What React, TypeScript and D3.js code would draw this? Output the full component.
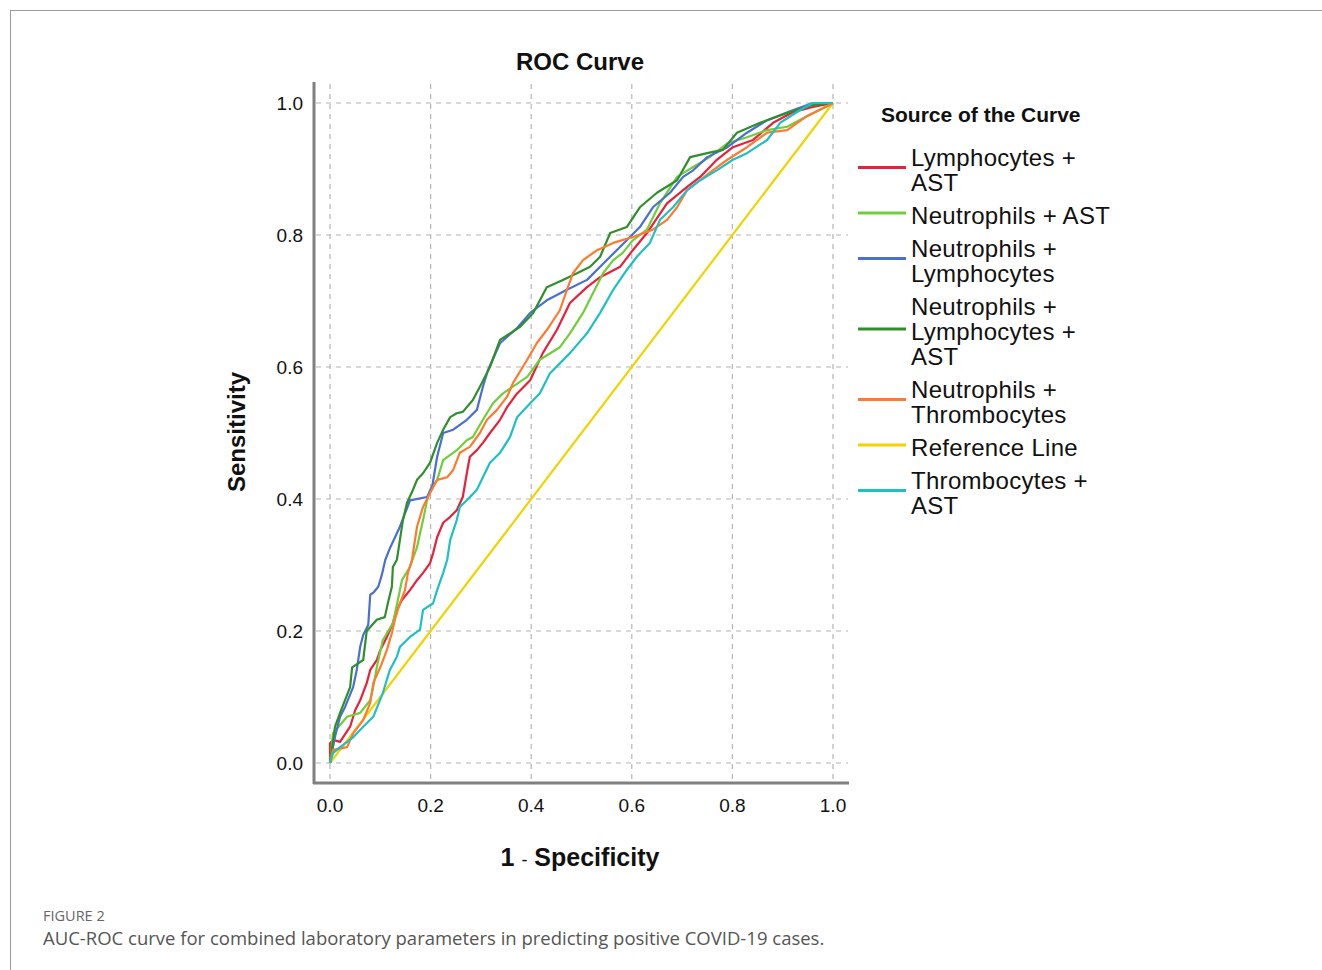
import React from "react";
import * as d3 from "d3";

type Pt = [number, number];

// ROC points: [1 - specificity, sensitivity]
const lymphAst: Pt[] = [
  [0, 0], [0, 0.03], [0.006, 0.035], [0.02, 0.032], [0.04, 0.055], [0.05, 0.08], [0.06, 0.095],
  [0.073, 0.121], [0.08, 0.141], [0.093, 0.156], [0.1, 0.171], [0.113, 0.191], [0.125, 0.212],
  [0.133, 0.232], [0.143, 0.247], [0.159, 0.262], [0.173, 0.277], [0.185, 0.288], [0.199, 0.303],
  [0.205, 0.318], [0.213, 0.342], [0.225, 0.364], [0.239, 0.373], [0.252, 0.383], [0.264, 0.403],
  [0.272, 0.439], [0.278, 0.464], [0.292, 0.474], [0.304, 0.485], [0.318, 0.5], [0.338, 0.52],
  [0.352, 0.539], [0.372, 0.56], [0.398, 0.58], [0.423, 0.621], [0.451, 0.656], [0.477, 0.697],
  [0.511, 0.721], [0.537, 0.736], [0.577, 0.752], [0.602, 0.777], [0.63, 0.803], [0.67, 0.848],
  [0.71, 0.873], [0.736, 0.888], [0.769, 0.914], [0.801, 0.933], [0.841, 0.944], [0.881, 0.97],
  [0.92, 0.986], [0.96, 0.994], [1, 1],
];

const neutroAst: Pt[] = [
  [0, 0], [0.006, 0.045], [0.034, 0.07], [0.06, 0.076], [0.08, 0.095], [0.086, 0.115], [0.093, 0.145],
  [0.105, 0.186], [0.125, 0.212], [0.135, 0.247], [0.143, 0.277], [0.159, 0.297], [0.173, 0.327],
  [0.179, 0.348], [0.185, 0.368], [0.193, 0.398], [0.199, 0.414], [0.213, 0.429], [0.225, 0.459],
  [0.252, 0.474], [0.272, 0.489], [0.284, 0.494], [0.304, 0.52], [0.324, 0.545], [0.344, 0.56],
  [0.392, 0.585], [0.417, 0.611], [0.457, 0.63], [0.477, 0.651], [0.503, 0.682], [0.523, 0.712],
  [0.543, 0.742], [0.563, 0.762], [0.582, 0.773], [0.602, 0.792], [0.63, 0.808], [0.656, 0.848],
  [0.69, 0.888], [0.722, 0.903], [0.755, 0.918], [0.79, 0.939], [0.829, 0.948], [0.869, 0.959],
  [0.909, 0.964], [0.948, 0.98], [0.988, 0.995], [1, 1],
];

const neutroLymph: Pt[] = [
  [0, 0], [0.01, 0.04], [0.02, 0.07], [0.03, 0.085], [0.046, 0.115], [0.053, 0.14], [0.06, 0.176],
  [0.066, 0.194], [0.076, 0.209], [0.08, 0.255], [0.086, 0.258], [0.096, 0.267], [0.103, 0.285],
  [0.11, 0.308], [0.12, 0.327], [0.139, 0.358], [0.153, 0.386], [0.159, 0.398], [0.193, 0.403],
  [0.203, 0.418], [0.213, 0.464], [0.225, 0.5], [0.245, 0.505], [0.272, 0.52], [0.292, 0.535],
  [0.304, 0.57], [0.314, 0.595], [0.338, 0.636], [0.372, 0.659], [0.398, 0.682], [0.431, 0.701],
  [0.471, 0.717], [0.511, 0.732], [0.537, 0.752], [0.59, 0.792], [0.616, 0.812], [0.642, 0.842],
  [0.676, 0.864], [0.702, 0.888], [0.722, 0.898], [0.75, 0.918], [0.79, 0.933], [0.829, 0.955],
  [0.869, 0.974], [0.92, 0.989], [0.96, 1], [1, 1],
];

const neutroLymphAst: Pt[] = [
  [0, 0], [0.01, 0.055], [0.02, 0.076], [0.04, 0.115], [0.044, 0.145], [0.066, 0.156], [0.073, 0.2],
  [0.093, 0.217], [0.109, 0.221], [0.115, 0.242], [0.123, 0.267], [0.125, 0.297], [0.133, 0.308],
  [0.139, 0.338], [0.145, 0.368], [0.153, 0.394], [0.165, 0.414], [0.173, 0.429], [0.185, 0.439],
  [0.199, 0.455], [0.213, 0.485], [0.225, 0.505], [0.239, 0.524], [0.252, 0.53], [0.264, 0.532],
  [0.284, 0.55], [0.298, 0.57], [0.318, 0.6], [0.338, 0.641], [0.378, 0.661], [0.404, 0.682],
  [0.431, 0.721], [0.463, 0.732], [0.491, 0.742], [0.517, 0.752], [0.537, 0.767], [0.557, 0.803],
  [0.59, 0.812], [0.616, 0.842], [0.65, 0.864], [0.69, 0.883], [0.716, 0.918], [0.75, 0.924],
  [0.781, 0.929], [0.809, 0.955], [0.855, 0.97], [0.909, 0.985], [0.96, 0.997], [1, 1],
];

const neutroThromb: Pt[] = [
  [0, 0], [0.006, 0.02], [0.034, 0.024], [0.046, 0.045], [0.066, 0.065], [0.08, 0.091], [0.086, 0.121],
  [0.1, 0.145], [0.113, 0.171], [0.123, 0.197], [0.129, 0.217], [0.139, 0.242], [0.149, 0.262],
  [0.155, 0.288], [0.163, 0.308], [0.173, 0.358], [0.185, 0.388], [0.199, 0.409], [0.213, 0.429],
  [0.233, 0.433], [0.245, 0.444], [0.258, 0.47], [0.278, 0.479], [0.298, 0.5], [0.312, 0.52],
  [0.332, 0.535], [0.352, 0.555], [0.364, 0.576], [0.392, 0.611], [0.411, 0.636], [0.431, 0.656],
  [0.457, 0.686], [0.471, 0.717], [0.483, 0.742], [0.503, 0.762], [0.531, 0.777], [0.563, 0.788],
  [0.602, 0.797], [0.642, 0.808], [0.67, 0.823], [0.69, 0.842], [0.71, 0.868], [0.736, 0.883],
  [0.761, 0.898], [0.79, 0.914], [0.829, 0.933], [0.869, 0.955], [0.909, 0.959], [0.948, 0.98],
  [0.988, 0.995], [1, 1],
];

const referenceLine: Pt[] = [[0, 0], [1, 1]];

const thrombAst: Pt[] = [
  [0, 0], [0.006, 0.015], [0.02, 0.024], [0.046, 0.039], [0.066, 0.055], [0.086, 0.07], [0.105, 0.106],
  [0.119, 0.141], [0.133, 0.161], [0.139, 0.176], [0.159, 0.191], [0.179, 0.202], [0.185, 0.232],
  [0.205, 0.242], [0.213, 0.262], [0.225, 0.288], [0.233, 0.308], [0.239, 0.338], [0.252, 0.368],
  [0.258, 0.388], [0.272, 0.398], [0.292, 0.414], [0.304, 0.433], [0.318, 0.455], [0.338, 0.47],
  [0.358, 0.494], [0.372, 0.524], [0.398, 0.545], [0.417, 0.56], [0.437, 0.59], [0.477, 0.621],
  [0.511, 0.651], [0.537, 0.682], [0.563, 0.717], [0.59, 0.747], [0.61, 0.767], [0.636, 0.788],
  [0.656, 0.823], [0.682, 0.842], [0.71, 0.868], [0.736, 0.883], [0.769, 0.898], [0.801, 0.914],
  [0.829, 0.924], [0.869, 0.944], [0.895, 0.97], [0.934, 0.989], [0.96, 1], [1, 1],
];

const seriesNames = [
  ["Lymphocytes +", "AST"],
  ["Neutrophils + AST"],
  ["Neutrophils +", "Lymphocytes"],
  ["Neutrophils +", "Lymphocytes +", "AST"],
  ["Neutrophils +", "Thrombocytes"],
  ["Reference Line"],
  ["Thrombocytes +", "AST"],
];
const seriesData = [lymphAst, neutroAst, neutroLymph, neutroLymphAst, neutroThromb, referenceLine, thrombAst];
const colors = ["#e8203c", "#6fcf3a", "#4a6fd2", "#2f8f2a", "#ff7a2e", "#f2d300", "#1fbfc4"];
const ticks = [0, 0.2, 0.4, 0.6, 0.8, 1.0];

const drawOrder = [5, 0, 1, 2, 3, 4, 6];

export default function App() {
  const x = d3.scaleLinear().domain([0, 1]).range([330, 833]);
  const y = d3.scaleLinear().domain([0, 1]).range([763, 103]);

  const line = d3
    .line<Pt>()
    .x((d) => x(d[0]))
    .y((d) => y(d[1]));

  const axisColor = "#808080";
  const gridColor = "#b4b4b4";
  const font = "'Liberation Sans', Arial, sans-serif";

  // legend rows
  const lineH = 25;
  const entryGap = 8;
  let cursor = 158;
  const legendRows = seriesNames.map((lines, i) => {
    const top = cursor;
    cursor += (lines.length - 1) * lineH + lineH + entryGap;
    const mid = top + ((lines.length - 1) * lineH) / 2;
    return { lines, top, mid, color: colors[i] };
  });

  return (
    <div style={{ position: "absolute", left: 0, top: 0 }}>
      <svg width={1322} height={970} style={{ display: "block", background: "#fff" }}>
        <rect x={10.5} y={10.5} width={1340} height={1000} fill="none" stroke="#9a9a9a" strokeWidth={1} />

        <text x={580} y={70} textAnchor="middle" fontFamily={font} fontWeight="bold" fontSize={24} fill="#111">
          ROC Curve
        </text>

        {/* grid */}
        {ticks.map((t) => (
          <line key={"gx" + t} x1={x(t)} x2={x(t)} y1={84} y2={782}
            stroke={gridColor} strokeWidth={1.2} strokeDasharray="5,5" />
        ))}
        {ticks.map((t) => (
          <line key={"gy" + t} x1={316} x2={848} y1={y(t)} y2={y(t)}
            stroke={gridColor} strokeWidth={1.2} strokeDasharray="5,5" />
        ))}

        {/* axes */}
        <line x1={314} x2={314} y1={82} y2={784} stroke={axisColor} strokeWidth={3} />
        <line x1={313} x2={849} y1={783} y2={783} stroke={axisColor} strokeWidth={3} />

        {ticks.map((t) => (
          <text key={"tx" + t} x={x(t)} y={812} textAnchor="middle" fontFamily={font} fontSize={19} fill="#111">
            {t.toFixed(1)}
          </text>
        ))}
        {ticks.map((t) => (
          <text key={"ty" + t} x={303} y={y(t) + 7} textAnchor="end" fontFamily={font} fontSize={19} fill="#111">
            {t.toFixed(1)}
          </text>
        ))}

        <text x={580} y={866} textAnchor="middle" fontFamily={font} fontWeight="bold" fontSize={25} fill="#111">
          1 <tspan fontWeight="normal" fontSize={18}>-</tspan> Specificity
        </text>
        <text transform="translate(245,432) rotate(-90)" textAnchor="middle" fontFamily={font}
          fontWeight="bold" fontSize={24} fill="#111">
          Sensitivity
        </text>

        {/* curves */}
        {drawOrder.map((i) => (
          <path key={"c" + i} d={line(seriesData[i]) ?? ""} fill="none" stroke={colors[i]}
            strokeWidth={2.2} strokeLinejoin="round" />
        ))}

        {/* legend */}
        <text x={881} y={122} fontFamily={font} fontWeight="bold" fontSize={21} fill="#111">
          Source of the Curve
        </text>
        {legendRows.map((r, i) => (
          <g key={"lg" + i}>
            <line x1={858} x2={906} y1={r.mid - 3} y2={r.mid - 3} stroke={r.color} strokeWidth={3} />
            {r.lines.map((s, j) => (
              <text key={j} x={911} y={r.top + j * lineH + 8} fontFamily={font} fontSize={24}
                letterSpacing={0.3} fill="#111">
                {s}
              </text>
            ))}
          </g>
        ))}

        {/* caption */}
        <text x={43} y={921} fontFamily="'Open Sans', sans-serif" fontSize={14.5} fill="#666">
          FIGURE 2
        </text>
        <text x={43} y={945} fontFamily="'Open Sans', sans-serif" fontSize={18.5} fill="#555">
          AUC-ROC curve for combined laboratory parameters in predicting positive COVID-19 cases.
        </text>
      </svg>
    </div>
  );
}
